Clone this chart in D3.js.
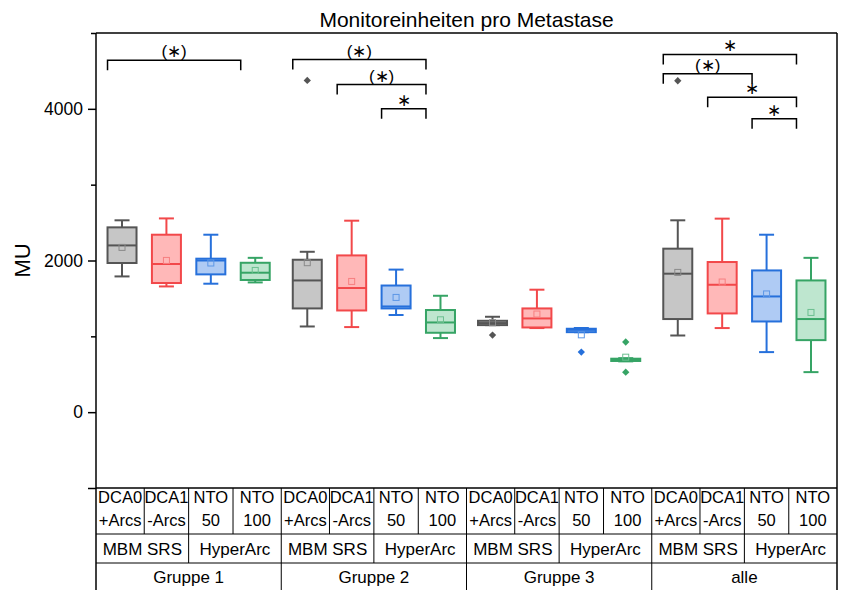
<!DOCTYPE html>
<html>
<head>
<meta charset="utf-8">
<script src="https://cdn.jsdelivr.net/npm/d3@7"></script>
<style>
  html, body { margin: 0; padding: 0; background: #fff; }
  svg { display: block; font-family: "Liberation Sans", Arial, sans-serif; }
</style>
</head>
<body>
<svg id="chart" width="843" height="590"></svg>
<script>
// Groups along the x axis and the four methods inside each group
const groups = ["Gruppe 1", "Gruppe 2", "Gruppe 3", "alle"];
const methodTop = ["DCA0", "DCA1", "NTO", "NTO"];
const methodBottom = ["+Arcs", "-Arcs", "50", "100"];
const systems = ["MBM SRS", "HyperArc"];

// Box statistics, indexed [group][method]
const whiskerHigh = [
  [2530, 2555, 2340, 2035],
  [2115, 2525, 1880, 1535],
  [1258, 1615, 1110, 712],
  [2530, 2552, 2340, 2035]
];
const q3 = [
  [2437, 2340, 2024, 1970],
  [2010, 2067, 1670, 1347],
  [1205, 1368, 1100, 705],
  [2156, 1980, 1869, 1737]
];
const median = [
  [2199, 1954, 2000, 1839],
  [1737, 1637, 1394, 1183],
  [1175, 1236, 1085, 690],
  [1826, 1680, 1526, 1228]
];
const q1 = [
  [1967, 1703, 1817, 1743],
  [1368, 1341, 1368, 1047],
  [1148, 1117, 1055, 675],
  [1228, 1302, 1196, 950]
];
const whiskerLow = [
  [1790, 1658, 1694, 1711],
  [1130, 1122, 1281, 977],
  [1148, 1109, 1055, 670],
  [1011, 1109, 792, 528]
];
const mean = [
  [2173, 2001, 1967, 1869],
  [1971, 1724, 1513, 1218],
  [1180, 1294, 1020, 725],
  [1843, 1716, 1559, 1315]
];
const outliers = [
  [[], [], [], []],
  [[4375], [], [], []],
  [[1016], [], [792], [925, 528]],
  [[4370], [], [], []]
];

// Significance brackets: group, first method, second method, level (MU), label
const brackets = [
  { g: 0, a: 0, b: 3, at: 4640, label: "(∗)" },
  { g: 1, a: 0, b: 3, at: 4650, label: "(∗)" },
  { g: 1, a: 1, b: 3, at: 4320, label: "(∗)" },
  { g: 1, a: 2, b: 3, at: 4000, label: "∗" },
  { g: 3, a: 0, b: 3, at: 4717, label: "∗" },
  { g: 3, a: 0, b: 2, at: 4462, label: "(∗)" },
  { g: 3, a: 1, b: 3, at: 4153, label: "∗" },
  { g: 3, a: 2, b: 3, at: 3868, label: "∗" }
];

// Axis ticks
const majorTicks = [0, 2000, 4000];
const minorTicks = [1000, 3000, 5000];

// Per-method colours
const strokeColors = ["#555555", "#f2484a", "#2670db", "#36a465"];
const fillColors = ["#c6c6c6", "#ffb8b8", "#afcbf4", "#bee6cf"];
const meanColors = ["#8a8a8a", "#f77f80", "#5d97e6", "#6cbf90"];

const svg = d3.select("#chart");
const plotLeft = 96, plotRight = 837, plotTop = 33, plotBottom = 488, fullHeight = 590;

const y = d3.scaleLinear().domain([-1000, 5000]).range([plotBottom, plotTop]);
const xGroup = d3.scaleBand().domain(groups).range([plotLeft, plotRight]);
const xInner = d3.scalePoint().domain(d3.range(4)).range([0, xGroup.bandwidth()]).padding(0.586);
const cx = (g, m) => xGroup(groups[g]) + xInner(m);
const boxW = 29, capW = 15;

// Title
svg.append("text")
  .attr("x", (plotLeft + plotRight) / 2).attr("y", 27)
  .attr("text-anchor", "middle")
  .attr("font-size", 21)
  .text("Monitoreinheiten pro Metastase");

// Y axis
const gMajor = svg.append("g").attr("transform", `translate(${plotLeft},0)`)
  .call(d3.axisLeft(y).tickValues(majorTicks).tickSize(8).tickPadding(5).tickFormat(d3.format("d")));
gMajor.select(".domain").remove();
gMajor.selectAll("line").attr("stroke", "#000").attr("stroke-width", 1.5);
gMajor.selectAll("text").attr("font-size", 17.5).attr("font-family", "Liberation Sans, Arial, sans-serif").attr("fill", "#000");

const gMinor = svg.append("g").attr("transform", `translate(${plotLeft},0)`)
  .call(d3.axisLeft(y).tickValues(minorTicks).tickSize(5).tickFormat(""));
gMinor.select(".domain").remove();
gMinor.selectAll("line").attr("stroke", "#000").attr("stroke-width", 1.5);

const gBase = svg.append("g").attr("transform", `translate(${plotLeft},0)`)
  .call(d3.axisLeft(y).tickValues([-1000]).tickSize(8).tickFormat(""));
gBase.select(".domain").remove();
gBase.selectAll("line").attr("stroke", "#000").attr("stroke-width", 1.5);

svg.append("text")
  .attr("transform", `translate(30,${y(2000)}) rotate(-90)`)
  .attr("text-anchor", "middle")
  .attr("font-size", 22)
  .text("MU");

// Frame of the plot and the category table below it
const frame = svg.append("g").attr("stroke", "#000").attr("fill", "none");
frame.append("line").attr("x1", plotLeft).attr("x2", plotRight).attr("y1", plotTop).attr("y2", plotTop).attr("stroke-width", 1.5);
frame.append("line").attr("x1", plotLeft).attr("x2", plotRight).attr("y1", plotBottom).attr("y2", plotBottom).attr("stroke-width", 1.5);
frame.append("line").attr("x1", plotLeft).attr("x2", plotLeft).attr("y1", plotTop).attr("y2", fullHeight).attr("stroke-width", 1.5);
frame.append("line").attr("x1", plotRight).attr("x2", plotRight).attr("y1", plotTop).attr("y2", fullHeight).attr("stroke-width", 1.5);

const row1 = plotBottom, row2 = 534, row3 = 563;
frame.append("line").attr("x1", plotLeft).attr("x2", plotRight).attr("y1", row2).attr("y2", row2).attr("stroke-width", 1);
frame.append("line").attr("x1", plotLeft).attr("x2", plotRight).attr("y1", row3).attr("y2", row3).attr("stroke-width", 1);

const table = svg.append("g").attr("text-anchor", "middle");
groups.forEach((name, g) => {
  const gx0 = xGroup(name), gx1 = gx0 + xGroup.bandwidth();
  // cell borders: midpoints between neighbouring boxes
  const edges = [gx0];
  for (let m = 0; m < 3; m++) edges.push((cx(g, m) + cx(g, m + 1)) / 2);
  edges.push(gx1);
  if (g > 0) {
    frame.append("line").attr("x1", gx0).attr("x2", gx0).attr("y1", row1).attr("y2", fullHeight).attr("stroke-width", 1);
  }
  for (let m = 1; m < 4; m++) {
    frame.append("line").attr("x1", edges[m]).attr("x2", edges[m]).attr("y1", row1).attr("y2", row2).attr("stroke-width", 1);
  }
  frame.append("line").attr("x1", edges[2]).attr("x2", edges[2]).attr("y1", row2).attr("y2", row3).attr("stroke-width", 1);
  for (let m = 0; m < 4; m++) {
    const mx = (edges[m] + edges[m + 1]) / 2;
    table.append("text").attr("x", mx).attr("y", 503).attr("font-size", 16.5).text(methodTop[m]);
    table.append("text").attr("x", mx).attr("y", 526).attr("font-size", 16.5).text(methodBottom[m]);
  }
  table.append("text").attr("x", (edges[0] + edges[2]) / 2).attr("y", 555).attr("font-size", 17).text(systems[0]);
  table.append("text").attr("x", (edges[2] + edges[4]) / 2).attr("y", 555).attr("font-size", 17).text(systems[1]);
  table.append("text").attr("x", (gx0 + gx1) / 2).attr("y", 583).attr("font-size", 17).text(name);
});

// Box plots
const boxes = svg.append("g");
groups.forEach((name, g) => {
  for (let m = 0; m < 4; m++) {
    const x = cx(g, m);
    const col = strokeColors[m];
    const b = boxes.append("g").attr("stroke", col).attr("stroke-width", 2);
    // whiskers
    b.append("line").attr("x1", x).attr("x2", x).attr("y1", y(q3[g][m])).attr("y2", y(whiskerHigh[g][m]));
    b.append("line").attr("x1", x).attr("x2", x).attr("y1", y(q1[g][m])).attr("y2", y(whiskerLow[g][m]));
    b.append("line").attr("x1", x - capW / 2).attr("x2", x + capW / 2).attr("y1", y(whiskerHigh[g][m])).attr("y2", y(whiskerHigh[g][m]));
    b.append("line").attr("x1", x - capW / 2).attr("x2", x + capW / 2).attr("y1", y(whiskerLow[g][m])).attr("y2", y(whiskerLow[g][m]));
    // box
    b.append("rect")
      .attr("x", x - boxW / 2).attr("width", boxW)
      .attr("y", y(q3[g][m])).attr("height", Math.max(1, y(q1[g][m]) - y(q3[g][m])))
      .attr("fill", fillColors[m]);
    // median
    b.append("line").attr("x1", x - boxW / 2).attr("x2", x + boxW / 2).attr("y1", y(median[g][m])).attr("y2", y(median[g][m]));
    // mean
    b.append("rect")
      .attr("x", x - 3).attr("y", y(mean[g][m]) - 3).attr("width", 6).attr("height", 6)
      .attr("fill", "none").attr("stroke", meanColors[m]).attr("stroke-width", 1);
    // outliers
    outliers[g][m].forEach(v => {
      b.append("path")
        .attr("d", d3.symbol(d3.symbolDiamond2, 34)())
        .attr("transform", `translate(${x},${y(v)})`)
        .attr("fill", col).attr("stroke", "none");
    });
  }
});

// Significance brackets, anchored at the left edges of the compared boxes
const sig = svg.append("g");
brackets.forEach(br => {
  const x1 = cx(br.g, br.a) - boxW / 2;
  const x2 = cx(br.g, br.b) - boxW / 2;
  const yl = y(br.at);
  sig.append("path")
    .attr("d", `M${x1},${yl + 10}V${yl}H${x2}V${yl + 10}`)
    .attr("fill", "none").attr("stroke", "#000").attr("stroke-width", 1.5);
  sig.append("text")
    .attr("x", (x1 + x2) / 2).attr("y", yl - 3)
    .attr("text-anchor", "middle").attr("font-size", 17)
    .text(br.label);
});
</script>
</body>
</html>
